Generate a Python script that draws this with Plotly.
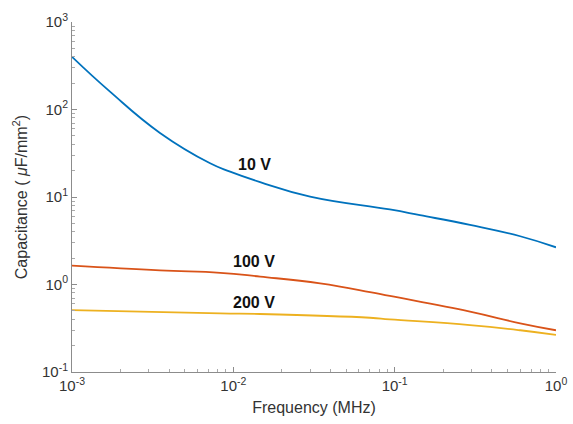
import math
import plotly.graph_objects as go

# Frequency (MHz) sample points and capacitance (uF/mm^2)
f10 = [0.001, 0.00172, 0.00351, 0.00718, 0.00955, 0.01466, 0.0299, 0.0933, 0.1435, 0.293, 0.6, 1.0]
c10 = [400, 160, 54, 24.3, 19.5, 14.8, 10.1, 7.2, 6.2, 4.8, 3.56, 2.66]

f100 = [0.001, 0.00351, 0.0083, 0.01466, 0.0345, 0.0703, 0.0933, 0.293, 0.6, 1.0]
c100 = [1.64, 1.45, 1.36, 1.23, 1.03, 0.82, 0.74, 0.49, 0.36, 0.30]

f200 = [0.001, 0.0083, 0.01466, 0.0703, 0.0933, 0.293, 0.6, 1.0]
c200 = [0.51, 0.468, 0.46, 0.417, 0.40, 0.344, 0.30, 0.265]

names = ["10 V", "100 V", "200 V"]
colors = ["#0072BD", "#D95319", "#EDB120"]
label_f = [0.0136, 0.0134, 0.0134]
label_c = [23.8, 1.81, 0.63]

x_ticks = [0.001, 0.01, 0.1, 1]
x_ticktext = ["10<sup>-3</sup>", "10<sup>-2</sup>", "10<sup>-1</sup>", "10<sup>0</sup>"]
y_ticks = [0.1, 1, 10, 100, 1000]
y_ticktext = ["10<sup>-1</sup>", "10<sup>0</sup>", "10<sup>1</sup>", "10<sup>2</sup>", "10<sup>3</sup>"]

def minor_vals(lo, hi):
    out = []
    for e in range(lo, hi):
        for m in range(2, 10):
            out.append(m * 10 ** e)
    return out

fig = go.Figure()
for xs, ys, name, col in zip([f10, f100, f200], [c10, c100, c200], names, colors):
    fig.add_trace(go.Scatter(x=xs, y=ys, mode="lines", name=name,
                             line=dict(color=col, width=1.8, shape="spline", smoothing=1.3)))

for name, lx, ly in zip(names, label_f, label_c):
    fig.add_annotation(x=math.log10(lx), y=math.log10(ly), xref="x", yref="y",
                       text="<b>" + name + "</b>", showarrow=False,
                       xanchor="center", yanchor="middle",
                       font=dict(family="Liberation Sans", size=16, color="#111111"))

common = dict(type="log", showgrid=False, zeroline=False, showline=True,
              linecolor="#8c8c8c", linewidth=1, ticks="inside", ticklen=5,
              tickcolor="#8c8c8c", tickmode="array", automargin=False,
              tickfont=dict(family="Liberation Sans", size=15, color="#333333"))

fig.update_xaxes(**common, range=[-3, 0], tickvals=x_ticks, ticktext=x_ticktext,
                 minor=dict(ticks="inside", ticklen=3, tickcolor="#aaaaaa", showgrid=False,
                            tickmode="array", tickvals=minor_vals(-3, 0)),
                 title=dict(text="Frequency (MHz)",
                            font=dict(family="Liberation Sans", size=16, color="#333333"), standoff=8))
fig.update_yaxes(**common, range=[-1, 3], tickvals=y_ticks, ticktext=y_ticktext,
                 minor=dict(ticks="inside", ticklen=3, tickcolor="#aaaaaa", showgrid=False,
                            tickmode="array", tickvals=minor_vals(-1, 3)),
                 title=dict(text="Capacitance ( <i>μ</i>F/mm<sup>2</sup>)",
                            font=dict(family="Liberation Sans", size=16, color="#333333"), standoff=10))

fig.update_layout(width=573, height=424, showlegend=False,
                  plot_bgcolor="white", paper_bgcolor="white",
                  margin=dict(l=72, r=17, t=22, b=52))

fig.write_html("out.html")
